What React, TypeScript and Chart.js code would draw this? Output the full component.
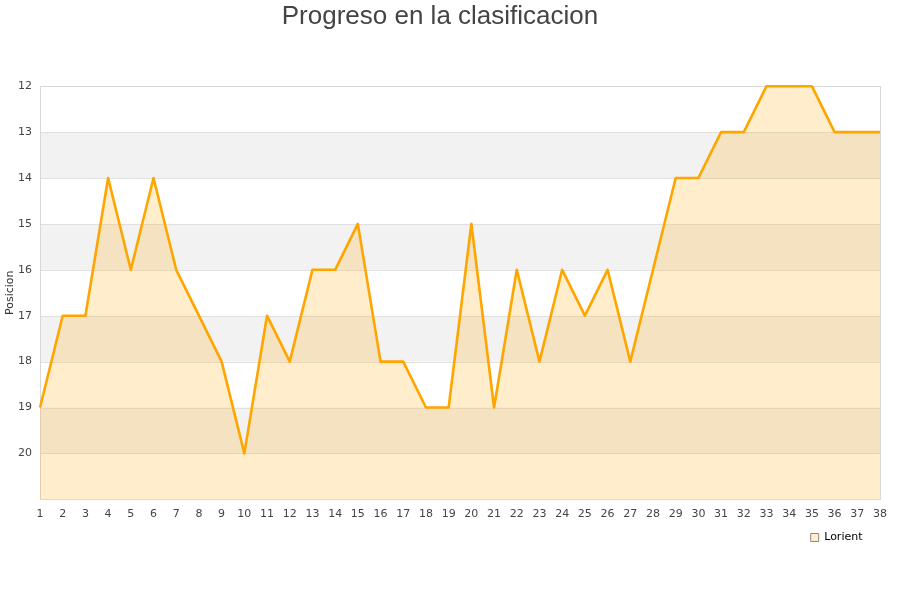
import React, { useEffect, useRef } from "react";
import { Chart, registerables } from "chart.js";

Chart.register(...registerables);

const jornadas: string[] = Array.from({ length: 38 }, (_, i) => String(i + 1));
const posiciones: number[] = [
  19, 17, 17, 14, 16, 14, 16, 17, 18, 20,
  17, 18, 16, 16, 15, 18, 18, 19, 19, 15,
  19, 16, 18, 16, 17, 16, 18, 16, 14, 14,
  13, 13, 12, 12, 12, 13, 13, 13,
];
const bandStarts: number[] = [13, 15, 17, 19];

const bandsPlugin = {
  id: "bands",
  afterLayout(chart: any) {
    if (chart.legend) {
      chart.legend.left -= 14;
      chart.legend.right -= 14;
    }
  },
  beforeDatasetsDraw(chart: any) {
    const { ctx, chartArea, scales } = chart;
    const y = scales.y;
    ctx.save();
    ctx.fillStyle = "#f2f2f2";
    bandStarts.forEach((b) => {
      const y1 = y.getPixelForValue(b);
      const y2 = y.getPixelForValue(b + 1);
      ctx.fillRect(chartArea.left, Math.min(y1, y2), chartArea.right - chartArea.left, Math.abs(y2 - y1));
    });
    ctx.strokeStyle = "#e0e0e0";
    ctx.lineWidth = 1;
    for (let v = 12; v <= 21; v++) {
      const py = Math.round(y.getPixelForValue(v)) + 0.5;
      ctx.beginPath();
      ctx.moveTo(chartArea.left, py);
      ctx.lineTo(chartArea.right, py);
      ctx.stroke();
    }
    ctx.strokeStyle = "#d8d8d8";
    ctx.strokeRect(Math.round(chartArea.left) + 0.5, Math.round(chartArea.top) + 0.5,
      Math.round(chartArea.right - chartArea.left), Math.round(chartArea.bottom - chartArea.top));
    ctx.restore();
  },
};

export default function App() {
  const ref = useRef<HTMLCanvasElement | null>(null);
  useEffect(() => {
    if (!ref.current) return;
    const chart = new Chart(ref.current, {
      type: "line",
      data: {
        labels: jornadas,
        datasets: [
          {
            label: "Lorient",
            data: posiciones,
            borderColor: "#ffa500",
            backgroundColor: "rgba(255,165,0,0.2)",
            borderWidth: 2.6,
            borderJoinStyle: "round",
            pointRadius: 0,
            tension: 0,
            fill: { value: 21 },
            clip: false as any,
          },
        ],
      },
      options: {
        animation: false,
        responsive: false,
        maintainAspectRatio: false,
        layout: { padding: { left: 0, right: 20, top: 0, bottom: 47 } },
        plugins: {
          title: {
            display: true,
            text: "Progreso en la clasificacion",
            color: "#444",
            font: { family: "Liberation Sans", size: 26, weight: "normal" },
            padding: { top: 1, bottom: 54 },
          },
          legend: {
            position: "bottom",
            align: "end",
            labels: {
              boxWidth: 8,
              boxHeight: 8,
              padding: 3.5,
              color: "#333",
              font: { family: "DejaVu Sans", size: 11 },
              generateLabels: () => [
                {
                  text: "Lorient",
                  fillStyle: "rgba(255,165,0,0.2)",
                  strokeStyle: "#888",
                  lineWidth: 1,
                  hidden: false,
                  datasetIndex: 0,
                } as any,
              ],
            },
          },
          tooltip: { enabled: false },
        },
        scales: {
          x: {
            offset: false,
            grid: { display: false, drawTicks: false },
            border: { display: false },
            ticks: {
              color: "#444",
              font: { family: "DejaVu Sans", size: 11 },
              maxRotation: 0,
              autoSkip: false,
              padding: 8,
            },
          },
          y: {
            reverse: true,
            min: 12,
            max: 21,
            grid: { display: false, drawTicks: false },
            border: { display: false },
            afterFit: (s: any) => { s.width = 40; },
            title: {
              display: true,
              text: "Posicion",
              color: "#333",
              font: { family: "DejaVu Sans", size: 11 },
              padding: { top: 4, bottom: 0 },
            },
            ticks: {
              stepSize: 1,
              color: "#444",
              font: { family: "DejaVu Sans", size: 11 },
              padding: 8,
              callback: (v: any) => (Number(v) >= 21 ? "" : String(v)),
            },
          },
        },
      },
      plugins: [bandsPlugin],
    });
    return () => chart.destroy();
  }, []);
  return (
    <div style={{ position: "fixed", left: 0, top: 0, width: 900, height: 600, background: "#fff" }}>
      <canvas ref={ref} width={900} height={600} style={{ width: 900, height: 600 }} />
    </div>
  );
}
